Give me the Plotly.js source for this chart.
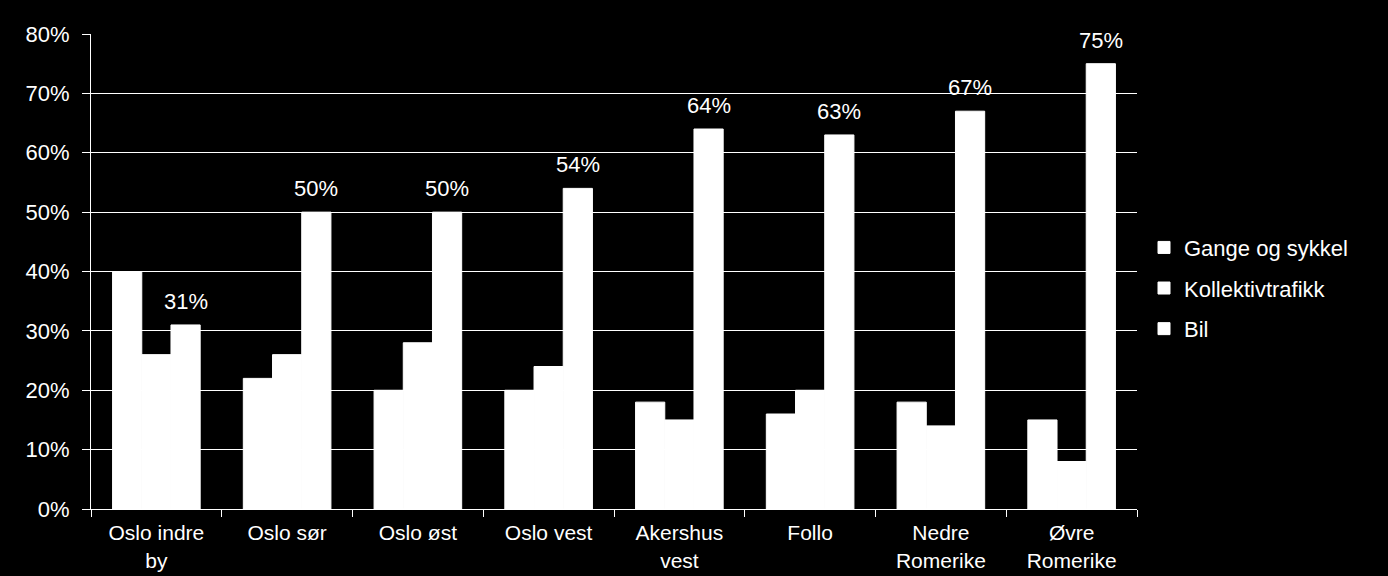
<!DOCTYPE html>
<html>
<head>
<meta charset="utf-8">
<script src="https://cdn.plot.ly/plotly-3.0.1.min.js"></script>
<style>
html,body{margin:0;padding:0;background:#000;}
#chart{width:1388px;height:576px;}
</style>
</head>
<body>
<div id="chart"></div>
<script>
const categories = ["Oslo indre<br>by", "Oslo sør", "Oslo øst", "Oslo vest", "Akershus<br>vest", "Follo", "Nedre<br>Romerike", "Øvre<br>Romerike"];
const seriesNames = ["Gange og sykkel", "Kollektivtrafikk", "Bil"];
const gangeSykkel = [0.40, 0.22, 0.20, 0.20, 0.18, 0.16, 0.18, 0.15];
const kollektiv = [0.26, 0.26, 0.28, 0.24, 0.15, 0.20, 0.14, 0.08];
const bil = [0.31, 0.50, 0.50, 0.54, 0.64, 0.63, 0.67, 0.75];
const yTicks = [0, 0.1, 0.2, 0.3, 0.4, 0.5, 0.6, 0.7, 0.8];

const FONT = "Liberation Sans, Arial, sans-serif";
const FS = 22;
const bargap = 0.33;
const barW = (1 - bargap) / 3;

function barTrace(name, vals, i) {
  return {
    type: "bar", name: name, x: categories, y: vals,
    marker: {color: "#ffffff", line: {width: 1, color: "#ffffff"}},
    legendgroup: "g" + i,
    hoverinfo: "none"
  };
}
const data = [
  barTrace(seriesNames[0], gangeSykkel, 0),
  barTrace(seriesNames[1], kollektiv, 1),
  barTrace(seriesNames[2], bil, 2)
];

const annotations = bil.map((v, i) => ({
  x: i + barW, y: v, xref: "x", yref: "y",
  text: Math.round(v * 100) + "%",
  showarrow: false, yanchor: "bottom", yshift: 9,
  font: {family: FONT, size: FS, color: "#ffffff"}
}));

const layout = {
  width: 1388, height: 576,
  paper_bgcolor: "#000000", plot_bgcolor: "#000000",
  margin: {l: 91, r: 251, t: 34, b: 67},
  barmode: "group", bargap: bargap, bargroupgap: 0,
  font: {family: FONT, size: FS, color: "#ffffff"},
  xaxis: {
    type: "category",
    tickson: "boundaries", ticks: "outside", ticklen: 7, tickcolor: "#ffffff", tickwidth: 1,
    showline: true, linecolor: "#ffffff", linewidth: 1,
    showgrid: false, zeroline: false,
    ticklabelstandoff: 5,
    tickfont: {family: FONT, size: 21, color: "#ffffff"},
    range: [-0.5, 7.5]
  },
  yaxis: {
    range: [0, 0.8], tickvals: yTicks, tickformat: ".0%",
    ticks: "outside", ticklen: 8, tickcolor: "#ffffff", tickwidth: 1,
    showline: true, linecolor: "#ffffff", linewidth: 1,
    showgrid: true, gridcolor: "#ffffff", gridwidth: 1,
    zeroline: false,
    ticklabelstandoff: 8,
    tickfont: {family: FONT, size: FS, color: "#ffffff"}
  },
  showlegend: true,
  legend: {
    x: 1.0067, xanchor: "left", y: 0.465, yanchor: "middle",
    bgcolor: "rgba(0,0,0,0)", traceorder: "grouped",
    tracegroupgap: 9, itemwidth: 30,
    font: {family: FONT, size: FS, color: "#ffffff"}
  },
  annotations: annotations
};

Plotly.newPlot("chart", data, layout, {staticPlot: true, displayModeBar: false});
</script>
</body>
</html>
